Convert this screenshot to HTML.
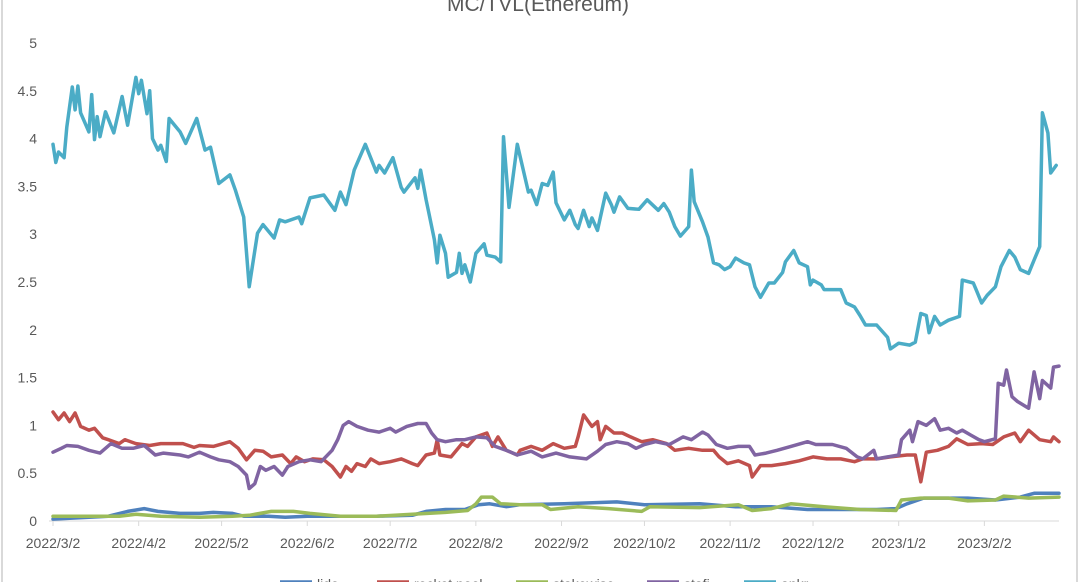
<!DOCTYPE html>
<html><head><meta charset="utf-8">
<style>
html,body{margin:0;padding:0;background:#fff;}
svg{display:block;font-family:"Liberation Sans",sans-serif;}
</style></head>
<body>
<svg id="chart" width="1080" height="582" viewBox="0 0 1080 582" xmlns="http://www.w3.org/2000/svg">
<rect x="0" y="0" width="1080" height="582" fill="#fff"/>
<line x1="2" y1="0" x2="2" y2="582" stroke="#d9d9d9" stroke-width="2"/>
<line x1="1077" y1="0" x2="1077" y2="582" stroke="#d9d9d9" stroke-width="2"/>
<text x="538" y="11" text-anchor="middle" font-size="21" fill="#595959">MC/TVL(Ethereum)</text>
<g id="axes"></g>
<g id="series"></g>
<g id="legend"></g>
</svg>
<script>
const yTicks = [0,0.5,1,1.5,2,2.5,3,3.5,4,4.5,5];
const yTickLabels = ["0","0.5","1","1.5","2","2.5","3","3.5","4","4.5","5"];
// x categories: days since 2022/3/2
const xTickDays = [0,31,61,92,122,153,184,214,245,275,306,337];
const xTickLabels = ["2022/3/2","2022/4/2","2022/5/2","2022/6/2","2022/7/2","2022/8/2","2022/9/2","2022/10/2","2022/11/2","2022/12/2","2023/1/2","2023/2/2"];
const seriesNames = ["lido","rocket pool","stakewise","stafi","ankr"];
const seriesColors = ["#4f81bd","#c0504d","#9bbb59","#8064a2","#4bacc6"];

const lidoDays = [0,7,20,27,33,38,46,53,58,65,69,78,84,92,104,117,130,135,142,149,154,158,164,169,185,204,214,234,247,260,273,285,298,305,309,315,324,331,341,350,355,364];
const lidoVals = [0.02,0.03,0.05,0.10,0.13,0.10,0.08,0.08,0.09,0.08,0.05,0.05,0.04,0.05,0.05,0.05,0.06,0.10,0.12,0.12,0.17,0.18,0.15,0.17,0.18,0.20,0.17,0.18,0.15,0.15,0.12,0.12,0.12,0.13,0.18,0.24,0.24,0.24,0.22,0.25,0.29,0.29];

const rocketDays = [0,2,4,6,8,10,13,15,18,20,24,26,30,35,39,43,47,51,53,58,64,67,70,73,76,79,83,86,88,91,94,98,101,104,106,108,110,113,115,118,122,126,130,132,135,138,139,140,144,148,150,153,157,159,161,164,168,169,173,177,181,185,189,190,192,195,197,198,200,203,206,209,213,217,222,225,230,235,239,241,244,248,252,253,256,260,265,270,275,280,285,290,293,298,303,309,312,314,316,320,324,327,331,336,340,344,348,350,353,357,361,362,364];
const rocketVals = [1.14,1.06,1.13,1.04,1.13,0.99,0.95,0.97,0.87,0.85,0.81,0.85,0.81,0.79,0.81,0.81,0.81,0.77,0.79,0.78,0.83,0.76,0.64,0.74,0.73,0.67,0.69,0.60,0.67,0.62,0.65,0.64,0.57,0.46,0.57,0.52,0.60,0.57,0.65,0.60,0.62,0.65,0.60,0.58,0.69,0.71,0.85,0.69,0.67,0.81,0.78,0.88,0.92,0.78,0.88,0.74,0.69,0.74,0.78,0.74,0.81,0.76,0.78,0.88,1.11,0.99,1.04,0.85,0.99,0.92,0.92,0.88,0.83,0.85,0.81,0.74,0.76,0.74,0.74,0.67,0.60,0.63,0.58,0.46,0.58,0.58,0.60,0.63,0.67,0.65,0.65,0.62,0.65,0.65,0.67,0.69,0.69,0.41,0.72,0.74,0.78,0.86,0.80,0.81,0.80,0.88,0.92,0.83,0.95,0.85,0.83,0.88,0.83];

const stakeDays = [0,13,24,30,39,53,65,71,79,87,93,104,117,130,142,150,153,155,159,162,169,177,180,190,201,213,216,234,248,253,260,267,279,292,305,307,314,324,331,341,344,353,364];
const stakeVals = [0.05,0.05,0.05,0.07,0.05,0.04,0.05,0.06,0.10,0.10,0.08,0.05,0.05,0.07,0.09,0.11,0.18,0.25,0.25,0.18,0.17,0.17,0.12,0.15,0.13,0.10,0.15,0.14,0.17,0.11,0.13,0.18,0.15,0.12,0.11,0.22,0.24,0.24,0.21,0.22,0.26,0.24,0.25];

const stafiDays = [0,3,5,9,13,17,21,25,29,33,37,40,46,49,53,57,60,64,67,70,71,73,75,77,80,83,85,89,93,97,101,103,105,107,110,114,118,122,124,128,132,135,137,139,142,146,149,153,157,160,164,168,173,177,182,187,193,197,200,204,208,211,214,218,223,228,231,235,237,240,244,248,252,254,258,262,267,273,276,282,287,291,293,297,298,302,306,307,310,311,313,316,319,321,324,327,329,332,335,337,341,342,344,345,347,349,353,355,357,358,361,362,364];
const stafiVals = [0.72,0.76,0.79,0.78,0.74,0.71,0.81,0.76,0.76,0.79,0.69,0.71,0.69,0.67,0.72,0.67,0.64,0.62,0.57,0.48,0.34,0.39,0.57,0.53,0.57,0.48,0.57,0.62,0.64,0.62,0.74,0.85,1.00,1.04,0.99,0.95,0.93,0.97,0.93,0.99,1.02,1.02,0.92,0.85,0.83,0.85,0.85,0.88,0.87,0.78,0.74,0.69,0.73,0.67,0.71,0.67,0.65,0.73,0.80,0.83,0.81,0.76,0.80,0.83,0.80,0.88,0.85,0.93,0.90,0.80,0.76,0.78,0.78,0.69,0.71,0.74,0.78,0.83,0.80,0.80,0.76,0.67,0.65,0.74,0.65,0.67,0.69,0.85,0.95,0.83,1.04,1.00,1.07,0.95,0.97,0.92,0.95,0.90,0.85,0.83,0.86,1.44,1.42,1.58,1.30,1.25,1.18,1.56,1.28,1.47,1.39,1.61,1.62];

const ankrDays = [0,1,2,4,5,7,8,9,10,13,14,15,16,17,19,22,25,27,30,31,32,34,35,36,38,39,41,42,46,48,52,55,57,60,64,66,69,71,74,76,80,82,84,89,90,93,98,102,104,106,109,113,117,118,120,123,126,127,131,132,133,135,136,138,139,140,142,143,146,147,148,149,151,153,156,157,160,162,163,165,168,172,173,175,177,179,181,182,185,187,189,190,192,194,195,197,200,202,203,205,208,212,215,219,221,223,225,227,230,231,232,235,237,239,241,243,245,247,250,252,254,256,259,261,264,265,268,270,273,274,275,278,279,282,285,287,290,292,294,298,302,303,306,310,312,314,316,317,319,321,324,328,329,333,334,336,338,341,343,346,348,350,353,355,357,358,360,361,363];
const ankrVals = [3.94,3.75,3.86,3.80,4.12,4.54,4.30,4.55,4.27,4.07,4.46,3.99,4.23,4.02,4.28,4.06,4.44,4.14,4.64,4.47,4.61,4.26,4.50,4.00,3.88,3.93,3.76,4.21,4.07,3.95,4.21,3.88,3.91,3.53,3.62,3.46,3.18,2.45,3.01,3.10,2.96,3.15,3.13,3.18,3.11,3.38,3.41,3.25,3.44,3.31,3.67,3.94,3.65,3.72,3.64,3.80,3.49,3.44,3.59,3.48,3.67,3.36,3.22,2.94,2.70,2.99,2.80,2.55,2.60,2.80,2.59,2.68,2.50,2.80,2.90,2.78,2.76,2.71,4.02,3.28,3.94,3.44,3.46,3.31,3.53,3.51,3.65,3.33,3.15,3.25,3.10,3.06,3.25,3.08,3.17,3.04,3.43,3.31,3.23,3.39,3.27,3.26,3.36,3.25,3.32,3.23,3.08,2.98,3.08,3.67,3.34,3.13,2.97,2.70,2.68,2.63,2.66,2.75,2.70,2.68,2.45,2.34,2.49,2.49,2.60,2.71,2.83,2.70,2.66,2.47,2.52,2.47,2.42,2.42,2.42,2.28,2.24,2.15,2.05,2.05,1.92,1.80,1.86,1.84,1.87,2.17,2.15,1.97,2.14,2.05,2.10,2.14,2.52,2.49,2.42,2.28,2.36,2.45,2.66,2.83,2.76,2.63,2.59,2.73,2.87,4.27,4.06,3.64,3.72];

const NS = "http://www.w3.org/2000/svg";
const X0 = 53, X1 = 1059, D0 = 0, D1 = 364;
const Y0 = 521, Y1 = 43, V0 = 0, V1 = 5;
function xScale(d){ return X0 + (d - D0) / (D1 - D0) * (X1 - X0); }
function yScale(v){ return Y0 - (v - V0) / (V1 - V0) * (Y0 - Y1); }
function mk(tag, attrs, parent){
  const el = document.createElementNS(NS, tag);
  for (const k in attrs) el.setAttribute(k, attrs[k]);
  parent.appendChild(el);
  return el;
}
const axes = document.getElementById('axes');
yTicks.forEach((v, i) => {
  const t = mk('text', {x: 37, y: yScale(v) + 5, 'text-anchor': 'end', 'font-size': 14, fill: '#595959'}, axes);
  
  
  t.textContent = yTickLabels[i];
});
const ax = mk('line', {x1: X0 - 4, y1: Y0, x2: X1, y2: Y0, stroke: '#d9d9d9', 'stroke-width': 1}, axes);


xTickDays.forEach((d, i) => {
  const tk = mk('line', {x1: xScale(d), y1: Y0, x2: xScale(d), y2: Y0 + 5, stroke: '#d9d9d9', 'stroke-width': 1}, axes);
  
  
  const t = mk('text', {x: xScale(d), y: Y0 + 27, 'text-anchor': 'middle', 'font-size': 14, fill: '#595959'}, axes);
  
  
  t.textContent = xTickLabels[i];
});
const sg = document.getElementById('series');
const allDays = [lidoDays, rocketDays, stakeDays, stafiDays, ankrDays];
const allVals = [lidoVals, rocketVals, stakeVals, stafiVals, ankrVals];
const keys = ['lido','rocket-pool','stakewise','stafi','ankr'];
allDays.forEach((days, s) => {
  const pts = days.map((d, i) => xScale(d).toFixed(1) + ',' + yScale(allVals[s][i]).toFixed(1)).join(' ');
  const pl = mk('polyline', {points: pts, fill: 'none', stroke: seriesColors[s], 'stroke-width': 3.5, 'stroke-linejoin': 'round', 'stroke-linecap': 'round'}, sg);
  
  
});
const lg = document.getElementById('legend');
const legX = [280, 377, 516, 647, 744];
seriesNames.forEach((n, i) => {
  const g = mk('g', {}, lg);
  
  
  const l = mk('line', {x1: legX[i], y1: 582, x2: legX[i] + 32, y2: 582, stroke: seriesColors[i], 'stroke-width': 3.5}, g);
  
  
  const t = mk('text', {x: legX[i] + 37, y: 589, 'font-size': 14, fill: '#595959'}, g);
  
  
  t.textContent = n;
});
</script>
</body></html>
